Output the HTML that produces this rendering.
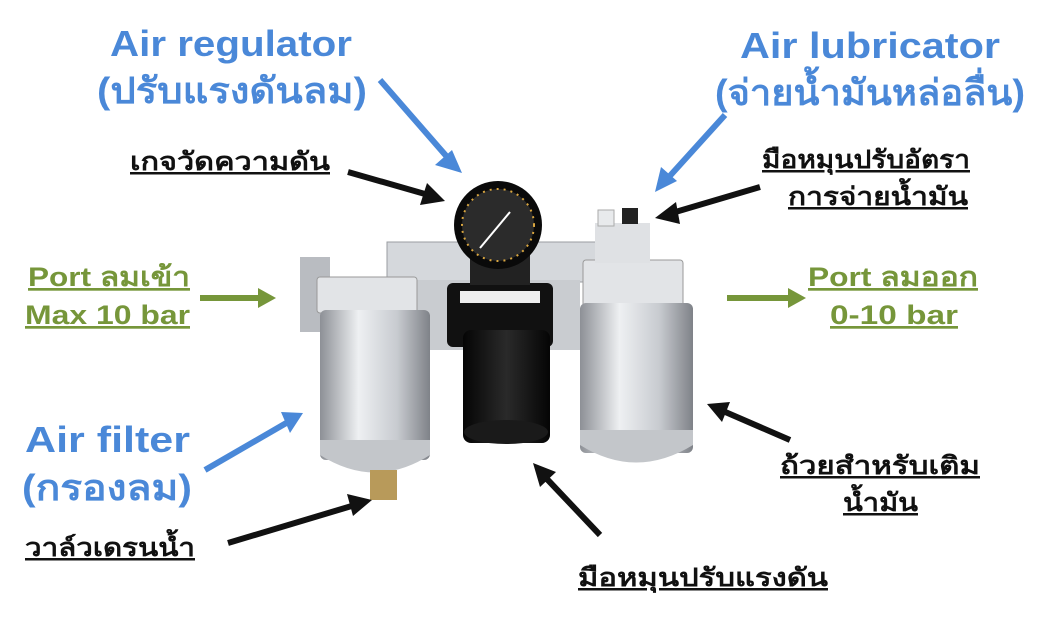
<!DOCTYPE html>
<html><head><meta charset="utf-8"><style>
html,body{margin:0;padding:0;background:#fff;width:1047px;height:618px;overflow:hidden}
svg{display:block}
text{font-family:"Liberation Sans","DejaVu Sans",sans-serif;font-weight:bold}
.b{fill:#4a88d8;font-size:36px}
.k{fill:#111;font-size:25px;text-decoration:underline}
.g{fill:#76963a;font-size:27px;text-decoration:underline}
</style></head><body>
<svg width="1047" height="618" viewBox="0 0 1047 618">
<defs>
<linearGradient id="s" x1="0" x2="1"><stop offset="0" stop-color="#8d9096"/><stop offset="0.35" stop-color="#eef0f2"/><stop offset="0.7" stop-color="#c8cbd0"/><stop offset="1" stop-color="#7f8288"/></linearGradient>
<linearGradient id="bk" x1="0" x2="1"><stop offset="0" stop-color="#050505"/><stop offset="0.5" stop-color="#2a2a2a"/><stop offset="1" stop-color="#050505"/></linearGradient>
</defs>
<rect x="387" y="242" width="213" height="40" fill="#d5d8dc" stroke="#9a9da2"/>
<rect x="410" y="280" width="170" height="70" fill="#c9ccd0"/>
<rect x="300" y="257" width="30" height="75" fill="#b9bcc1"/>
<rect x="317" y="277" width="100" height="36" rx="3" fill="#e2e4e7" stroke="#999"/>
<rect x="320" y="310" width="110" height="150" rx="6" fill="url(#s)"/>
<path d="M320 455 Q375 490 430 455 L430 440 L320 440 Z" fill="#c3c6ca"/>
<rect x="370" y="470" width="27" height="30" fill="#b89a5a"/>
<rect x="583" y="260" width="100" height="47" rx="3" fill="#e2e4e7" stroke="#999"/>
<rect x="595" y="223" width="55" height="40" fill="#dfe1e4"/>
<rect x="598" y="210" width="16" height="16" fill="#e8eaec" stroke="#aaa"/>
<rect x="622" y="208" width="16" height="16" fill="#222"/>
<rect x="580" y="303" width="113" height="150" rx="6" fill="url(#s)"/>
<path d="M580 445 Q636 480 693 445 L693 430 L580 430 Z" fill="#c3c6ca"/>
<rect x="447" y="283" width="106" height="64" rx="6" fill="#111"/>
<rect x="460" y="291" width="80" height="12" fill="#eee"/>
<rect x="463" y="330" width="87" height="113" rx="8" fill="url(#bk)"/>
<ellipse cx="506" cy="432" rx="42" ry="12" fill="#1a1a1a"/>
<rect x="470" y="240" width="60" height="45" fill="#222"/>
<circle cx="498" cy="225" r="44" fill="#0a0a0a"/>
<circle cx="498" cy="225" r="36" fill="#2b2b2b" stroke="#d9a640" stroke-width="2" stroke-dasharray="2 5"/>
<line x1="480" y1="248" x2="510" y2="212" stroke="#fff" stroke-width="2"/>
<g stroke-width="6" fill="none">
<line x1="380" y1="80" x2="448" y2="158" stroke="#4a88d8"/>
<line x1="725" y1="115" x2="668" y2="178" stroke="#4a88d8"/>
<line x1="205" y1="470" x2="288" y2="422" stroke="#4a88d8"/>
<line x1="348" y1="172" x2="425" y2="194" stroke="#111"/>
<line x1="760" y1="187" x2="672" y2="213" stroke="#111"/>
<line x1="228" y1="543" x2="355" y2="505" stroke="#111"/>
<line x1="790" y1="440" x2="723" y2="411" stroke="#111"/>
<line x1="600" y1="535" x2="546" y2="478" stroke="#111"/>
<line x1="200" y1="298" x2="260" y2="298" stroke="#76963a"/>
<line x1="727" y1="298" x2="790" y2="298" stroke="#76963a"/>
</g>
<g>
<polygon points="462,173 435,165 452,150" fill="#4a88d8"/>
<polygon points="655,192 661,167 677,181" fill="#4a88d8"/>
<polygon points="303,413 290,433 281,412" fill="#4a88d8"/>
<polygon points="445,201 420,205 427,183" fill="#111"/>
<polygon points="655,218 676,202 680,224" fill="#111"/>
<polygon points="372,500 353,516 347,494" fill="#111"/>
<polygon points="707,404 730,402 722,422" fill="#111"/>
<polygon points="533,463 556,472 540,487" fill="#111"/>
<polygon points="276,298 258,288 258,308" fill="#76963a"/>
<polygon points="806,298 788,288 788,308" fill="#76963a"/>
</g>
<text class="b" x="110" y="56" textLength="242" lengthAdjust="spacingAndGlyphs">Air regulator</text>
<text class="b" x="97" y="103" textLength="270" lengthAdjust="spacingAndGlyphs">(ปรับแรงดันลม)</text>
<text class="b" x="740" y="58" textLength="260" lengthAdjust="spacingAndGlyphs">Air lubricator</text>
<text class="b" x="715" y="105" textLength="310" lengthAdjust="spacingAndGlyphs">(จ่ายน้ำมันหล่อลื่น)</text>
<text class="k" x="130" y="170" textLength="200" lengthAdjust="spacingAndGlyphs">เกจวัดความดัน</text>
<text class="k" x="762" y="168" textLength="208" lengthAdjust="spacingAndGlyphs">มือหมุนปรับอัตรา</text>
<text class="k" x="788" y="205" textLength="180" lengthAdjust="spacingAndGlyphs">การจ่ายน้ำมัน</text>
<text class="g" x="28" y="286" textLength="162" lengthAdjust="spacingAndGlyphs">Port ลมเข้า</text>
<text class="g" x="25" y="324" textLength="165" lengthAdjust="spacingAndGlyphs">Max 10 bar</text>
<text class="g" x="808" y="286" textLength="170" lengthAdjust="spacingAndGlyphs">Port ลมออก</text>
<text class="g" x="830" y="324" textLength="128" lengthAdjust="spacingAndGlyphs">0-10 bar</text>
<text class="b" x="25" y="452" textLength="165" lengthAdjust="spacingAndGlyphs">Air filter</text>
<text class="b" x="22" y="500" textLength="170" lengthAdjust="spacingAndGlyphs">(กรองลม)</text>
<text class="k" x="25" y="556" textLength="170" lengthAdjust="spacingAndGlyphs">วาล์วเดรนน้ำ</text>
<text class="k" x="780" y="474" textLength="200" lengthAdjust="spacingAndGlyphs">ถ้วยสำหรับเติม</text>
<text class="k" x="843" y="511" textLength="75" lengthAdjust="spacingAndGlyphs">น้ำมัน</text>
<text class="k" x="578" y="586" textLength="250" lengthAdjust="spacingAndGlyphs">มือหมุนปรับแรงดัน</text>
</svg>
</body></html>
